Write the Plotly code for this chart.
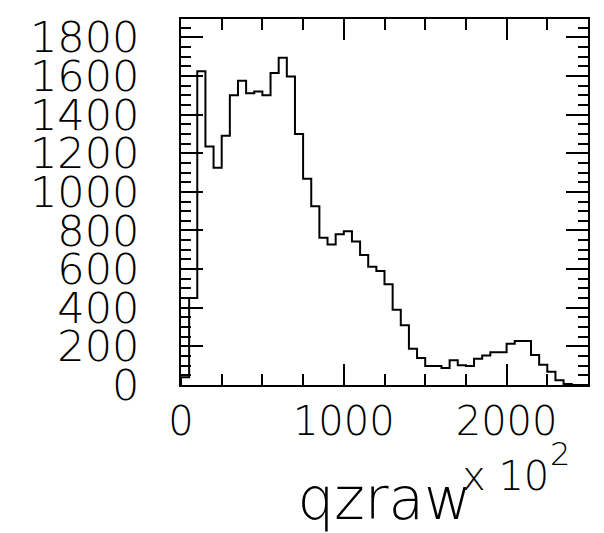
import numpy as np
import plotly.graph_objects as go

# Histogram of qzraw (x axis in units of 10^2), 50 bins of width 50 from 0 to 2500
bin_start = 0
bin_width = 50
counts = [40, 450, 1625, 1235, 1125, 1290, 1500, 1575, 1510, 1520,
          1500, 1615, 1695, 1597, 1300, 1068, 925, 762, 728, 780,
          796, 743, 673, 612, 590, 522, 390, 310, 188, 140,
          99, 99, 88, 128, 102, 99, 136, 153, 170, 170,
          213, 228, 228, 155, 105, 68, 25, 5, 0, 0]
x_tickvals = [0, 1000, 2000]
x_ticktext = ["0", "1000", "2000"]
y_tickvals = [0, 200, 400, 600, 800, 1000, 1200, 1400, 1600, 1800]
y_ticktext = [str(v) for v in y_tickvals]
x_title = "qzraw"
exp_base = "x 10"
exp_power = "2"

edges = bin_start + bin_width * np.arange(len(counts) + 1)
xs = np.concatenate([[edges[0]], edges])
ys = np.concatenate([[0], counts, [0]])

fig = go.Figure()
fig.add_trace(go.Scatter(x=xs, y=ys, mode="lines", line=dict(shape="hv", color="black", width=2),
                         hoverinfo="skip", showlegend=False))

L, R, T, B = 181, 16, 19, 143
W, H = 604, 533
pw, ph = W - L - R, H - T - B

font_family = "DejaVu Sans"
fw = 200
fig.update_layout(
    width=W, height=H,
    margin=dict(l=L, r=R, t=T, b=B, pad=0),
    paper_bgcolor="white", plot_bgcolor="white",
    showlegend=False,
)
fig.update_xaxes(
    range=[0, 2500], tickmode="array", tickvals=x_tickvals, ticktext=x_ticktext,
    ticks="inside", ticklen=21, tickwidth=2, tickcolor="black",
    showline=True, linewidth=2, linecolor="black", mirror="ticks",
    showgrid=False, zeroline=False,
    tickfont=dict(family=font_family, size=40, color="black", weight=fw),
    ticklabelstandoff=0,
    minor=dict(dtick=250, tick0=0, ticks="inside", ticklen=11, tickwidth=2, tickcolor="black", showgrid=False),
    title=dict(text=x_title, font=dict(family=font_family, size=58, color="black", weight=fw), standoff=36),
)
fig.update_yaxes(
    range=[0, 1895], tickmode="array", tickvals=y_tickvals, ticktext=y_ticktext,
    ticks="inside", ticklen=22, tickwidth=2, tickcolor="black",
    showline=True, linewidth=2, linecolor="black", mirror="ticks",
    showgrid=False, zeroline=False,
    tickfont=dict(family=font_family, size=43, color="black", weight=fw),
    ticklabelstandoff=31,
    minor=dict(dtick=50, tick0=0, ticks="inside", ticklen=10, tickwidth=2, tickcolor="black", showgrid=False),
)

fig.add_annotation(text=exp_base, xref="paper", yref="paper",
                   x=(460 - L) / pw, y=(H - B - 482) / ph, xanchor="left", yanchor="middle",
                   showarrow=False, font=dict(family=font_family, size=40, color="black", weight=fw))
fig.add_annotation(text=exp_power, xref="paper", yref="paper",
                   x=(560 - L) / pw, y=(H - B - 460) / ph, xanchor="center", yanchor="middle",
                   showarrow=False, font=dict(family=font_family, size=32, color="black", weight=fw))

fig.write_html("out.html")
